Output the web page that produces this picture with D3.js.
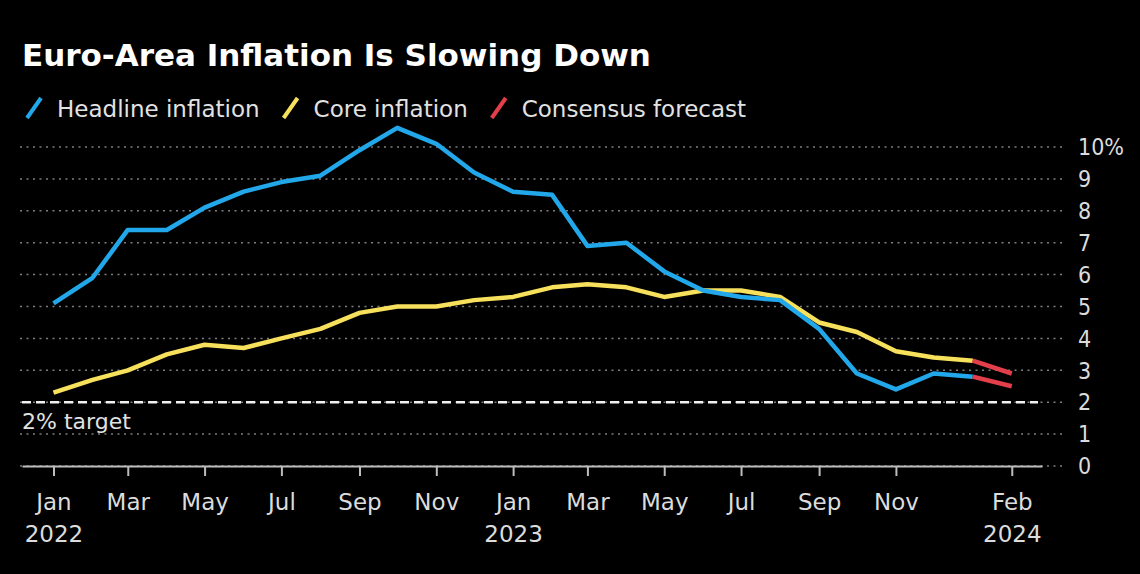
<!DOCTYPE html>
<html>
<head>
<meta charset="utf-8">
<script src="https://cdn.jsdelivr.net/npm/d3@7"></script>
<style>
  body { margin: 0; background: #000; }
  svg { display: block; }
  text { font-family: "DejaVu Sans", sans-serif; }
  .cond { font-family: "DejaVu Sans Condensed", "DejaVu Sans", sans-serif; font-stretch: condensed; }
</style>
</head>
<body>
<svg width="1140" height="574"></svg>
<script>
// monthly readings, Jan 2022 .. Jan 2024
const months = [
  "2022-01","2022-02","2022-03","2022-04","2022-05","2022-06",
  "2022-07","2022-08","2022-09","2022-10","2022-11","2022-12",
  "2023-01","2023-02","2023-03","2023-04","2023-05","2023-06",
  "2023-07","2023-08","2023-09","2023-10","2023-11","2023-12",
  "2024-01"
];
const headline = [5.1, 5.9, 7.4, 7.4, 8.1, 8.6, 8.9, 9.1, 9.9, 10.6, 10.1, 9.2,
                  8.6, 8.5, 6.9, 7.0, 6.1, 5.5, 5.3, 5.2, 4.3, 2.9, 2.4, 2.9, 2.8];
const core = [2.3, 2.7, 3.0, 3.5, 3.8, 3.7, 4.0, 4.3, 4.8, 5.0, 5.0, 5.2,
              5.3, 5.6, 5.7, 5.6, 5.3, 5.5, 5.5, 5.3, 4.5, 4.2, 3.6, 3.4, 3.3];

// consensus forecast for Feb 2024
const forecastMonths = ["2024-01", "2024-02"];
const headlineForecast = [2.8, 2.5];
const coreForecast = [3.3, 2.9];

const target = 2;
const xTicks = ["2022-01","2022-03","2022-05","2022-07","2022-09","2022-11",
                "2023-01","2023-03","2023-05","2023-07","2023-09","2023-11","2024-02"];
const yTicks = [0, 1, 2, 3, 4, 5, 6, 7, 8, 9, 10];

const BLUE = "#22a8ea";
const YELLOW = "#f6e05c";
const RED = "#e23f4b";

const parse = d3.timeParse("%Y-%m");
const svg = d3.select("svg");

const x = d3.scaleTime()
  .domain([new Date(2021, 11, 7), new Date(2024, 1, 25)])
  .range([22, 1042]);
const y = d3.scaleLinear().domain([0, 10]).range([466, 147]);

// title
svg.append("text")
  .attr("x", 22).attr("y", 66)
  .attr("fill", "#fff")
  .attr("font-size", 31).attr("font-weight", "bold")
  .text("Euro-Area Inflation Is Slowing Down");

// legend
const legendItems = [
  {label: "Headline inflation", color: BLUE},
  {label: "Core inflation", color: YELLOW},
  {label: "Consensus forecast", color: RED}
];
let lx = 27;
legendItems.forEach(item => {
  svg.append("line")
    .attr("x1", lx).attr("y1", 118).attr("x2", lx + 14).attr("y2", 98)
    .attr("stroke", item.color).attr("stroke-width", 4);
  const t = svg.append("text")
    .attr("x", lx + 30).attr("y", 117)
    .attr("fill", "#e2e2e2").attr("font-size", 23)
    .text(item.label);
  lx += 30 + t.node().getComputedTextLength() + 24;
});

// dotted gridlines
svg.append("g").selectAll("line")
  .data(yTicks)
  .join("line")
  .attr("x1", 20).attr("x2", 1064)
  .attr("y1", d => y(d)).attr("y2", d => y(d))
  .attr("stroke", "#7e7e7e").attr("stroke-width", 1.5)
  .attr("stroke-dasharray", "2,4.5");

// y labels on the right
svg.append("g").selectAll("text")
  .data(yTicks)
  .join("text")
  .attr("class", "cond")
  .attr("x", 1078).attr("y", d => y(d))
  .attr("dy", "0.36em")
  .attr("fill", "#dcdcdc").attr("font-size", 23)
  .text(d => d === 10 ? d + "%" : d);

// 2% target
svg.append("line")
  .attr("x1", 22).attr("x2", 1038)
  .attr("y1", y(target)).attr("y2", y(target))
  .attr("stroke", "#f0f0f0").attr("stroke-width", 2.5)
  .attr("stroke-dasharray", "9,5");
svg.append("text")
  .attr("x", 22).attr("y", y(target) + 27)
  .attr("fill", "#e2e2e2").attr("font-size", 22)
  .text("2% target");

// x axis
const monthFmt = d3.timeFormat("%b");
const xAxis = svg.append("g")
  .attr("transform", `translate(0,${y(0)})`)
  .call(d3.axisBottom(x)
    .tickValues(xTicks.map(parse))
    .tickFormat(monthFmt)
    .tickSizeInner(10)
    .tickSizeOuter(0)
    .tickPadding(18));
xAxis.select(".domain").attr("stroke", "#bdbdbd").attr("stroke-width", 2);
xAxis.selectAll(".tick line").attr("stroke", "#bdbdbd").attr("stroke-width", 2);
xAxis.selectAll(".tick text")
  .attr("fill", "#dcdcdc").attr("font-size", 23)
  .attr("font-family", null);
xAxis.selectAll(".tick")
  .filter(d => d.getMonth() === 0 || d.getFullYear() === 2024)
  .append("text")
  .attr("y", 76)
  .attr("fill", "#dcdcdc").attr("font-size", 23)
  .attr("text-anchor", "middle")
  .text(d => d.getFullYear());

// series lines
const line = d3.line()
  .x(d => x(parse(d[0])))
  .y(d => y(d[1]));

const drawSeries = (keys, values, color) => {
  svg.append("path")
    .attr("d", line(d3.zip(keys, values)))
    .attr("fill", "none")
    .attr("stroke", color)
    .attr("stroke-width", 4.5)
    .attr("stroke-linejoin", "round");
};

drawSeries(months, core, YELLOW);
drawSeries(months, headline, BLUE);
drawSeries(forecastMonths, coreForecast, RED);
drawSeries(forecastMonths, headlineForecast, RED);
</script>
</body>
</html>
